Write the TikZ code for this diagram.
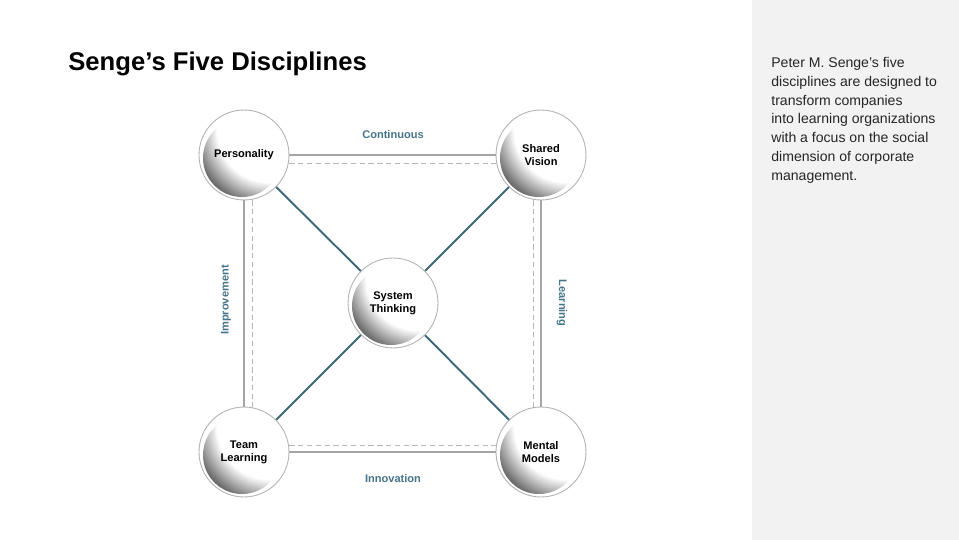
\documentclass[tikz,border=0pt]{standalone}
\usepackage{fontspec}
\setmainfont{Liberation Sans}
\usepackage{xcolor}
\usepackage{tikz}

\definecolor{panelgray}{RGB}{242,242,242}
\definecolor{linkteal}{RGB}{70,116,138}
\definecolor{diagteal}{RGB}{62,104,122}
\definecolor{railgray}{RGB}{165,165,165}
\definecolor{discgray}{RGB}{110,110,110}

\pgfdeclareradialshading{discshade}{\pgfpoint{0bp}{0bp}}{color(0bp)=(white); color(13bp)=(white); color(19bp)=(discgray); color(50bp)=(discgray)}

\tikzset{
  discipline/.style={circle, draw=gray!60, line width=0.5pt, fill=white,
    minimum size=1.8cm, inner sep=0pt, align=center,
    font=\fontsize{6.3}{7.4}\selectfont\bfseries,
    path picture={
      \begin{scope}
        \clip ([xshift=-0.04cm,yshift=-0.06cm]path picture bounding box.center) circle (0.78cm);
        \shade[shading=discshade]
          ([xshift=0.5cm,yshift=0.5cm]path picture bounding box.center) circle (2cm);
      \end{scope}}},
  solidlink/.style={draw=railgray, line width=1.6pt},
  dashlink/.style={draw=railgray!80, line width=0.45pt, densely dashed},
  diaglink/.style={draw=diagteal, line width=1.1pt},
  linklabel/.style={text=linkteal, font=\fontsize{6.3}{7.4}\selectfont\bfseries, inner sep=0pt}
}

\begin{document}
\begin{tikzpicture}[x=0.02cm, y=-0.02cm]
  \useasboundingbox (0,0) rectangle (959,540);
  \fill[panelgray] (752,0) rectangle (959,540);

  \node[anchor=base west, inner sep=0pt, font=\fontsize{14.6}{17}\selectfont\bfseries] (title) at (68,71) {Senge’s Five Disciplines};

  % five disciplines
  \node[discipline] (pers) at (244,155) {Personality};
  \node[discipline] (sv) at (541,155) {Shared\\Vision};
  \node[discipline] (st) at (393,303) {System\\Thinking};
  \node[discipline] (tl) at (244,452) {Team\\Learning};
  \node[discipline] (mm) at (541,452) {Mental\\Models};

  % outer frame
  \draw[solidlink] (pers) -- (sv);
  \draw[solidlink] (pers) -- (tl);
  \draw[solidlink] (sv) -- (mm);
  \draw[solidlink] (tl) -- (mm);
  \draw[dashlink] ([yshift=-0.16cm]pers.east) -- ([yshift=-0.16cm]sv.west);
  \draw[dashlink] ([xshift=0.16cm]pers.south) -- ([xshift=0.16cm]tl.north);
  \draw[dashlink] ([xshift=-0.15cm]sv.south) -- ([xshift=-0.15cm]mm.north);
  \draw[dashlink] ([yshift=0.14cm]tl.east) -- ([yshift=0.14cm]mm.west);

  % to the centre
  \draw[diaglink] (pers) -- (st);
  \draw[diaglink] (sv) -- (st);
  \draw[diaglink] (tl) -- (st);
  \draw[diaglink] (mm) -- (st);

  \node[linklabel] (cont) at (393,135) {Continuous};
  \node[linklabel] (innov) at (393,479) {Innovation};
  \node[linklabel, rotate=90] (impr) at (226,300) {Improvement};
  \node[linklabel, rotate=-90] (learn) at (562,303) {Learning};

  \node[anchor=north west, align=left, inner sep=0pt, text=black!85,
    font=\fontsize{8}{10.7}\selectfont] (note) at (771,57)
    {Peter M. Senge’s five\\disciplines are designed to\\transform companies\\into learning organizations\\with a focus on the social\\dimension of corporate\\management.};
\end{tikzpicture}
\end{document}
